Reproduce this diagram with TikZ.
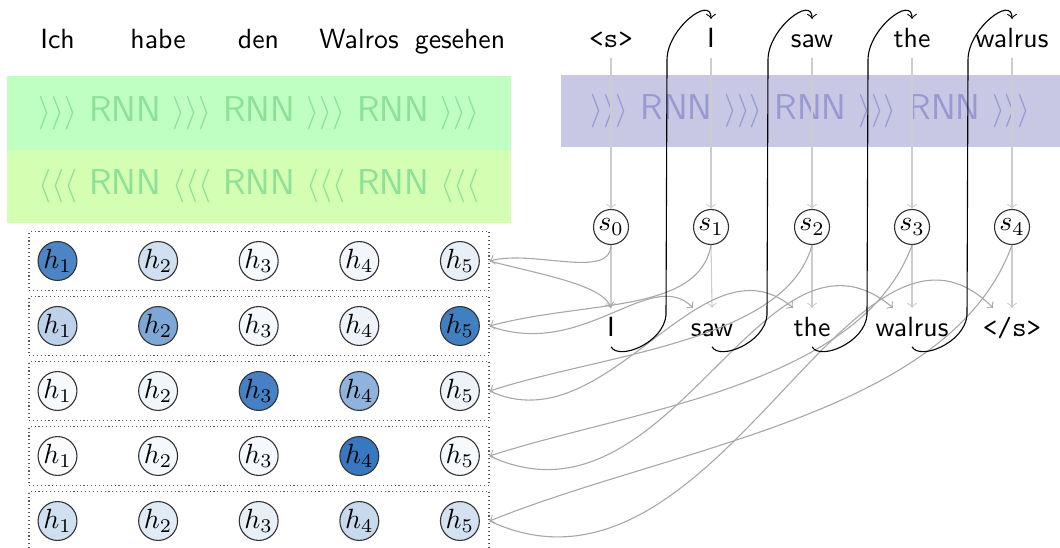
\documentclass[tikz,border=0pt]{standalone}
\usepackage{fontspec}
\usetikzlibrary{calc}

\definecolor{encA}{RGB}{191,255,193}
\definecolor{encB}{RGB}{212,255,178}
\definecolor{encT}{RGB}{140,224,152}
\definecolor{decBox}{RGB}{200,200,228}
\definecolor{decT}{RGB}{152,152,212}
\definecolor{attblue}{RGB}{55,120,192}
\definecolor{feedgray}{RGB}{205,205,205}
\definecolor{attgray}{RGB}{168,168,168}

\begin{document}
\begin{tikzpicture}[x=0.36pt,y=0.36pt,
  word/.style={font=\sffamily, anchor=base, text height=6.94pt, text depth=0pt},
  rnnbox/.style={inner sep=0pt, font=\sffamily\fontsize{12.9pt}{15pt}\selectfont},
  hid/.style={circle, draw=black!80, minimum size=14pt, inner sep=0pt},
  st/.style={circle, draw=black!80, fill=white, minimum size=12.6pt, inner sep=0pt},
  rowbox/.style={draw=black!65, densely dotted, minimum width=165.6pt, minimum height=21.2pt, inner sep=0pt},
  feed/.style={->, draw=feedgray},
  attn/.style={->, draw=attgray},
  loopback/.style={->, draw=black}]

\useasboundingbox (0,0) rectangle (1060,-548);

% encoder (forward / backward) and decoder RNN bands
\node[rnnbox, fill=encA, text=encT, minimum width=181.4pt, minimum height=26.6pt] (encF) at (259,-113)
  {$\rangle\rangle\rangle$ RNN $\rangle\rangle\rangle$ RNN $\rangle\rangle\rangle$ RNN $\rangle\rangle\rangle$};
\node[rnnbox, fill=encB, text=encT, minimum width=181.4pt, minimum height=26.3pt] (encR) at (259,-186.5)
  {$\langle\langle\langle$ RNN $\langle\langle\langle$ RNN $\langle\langle\langle$ RNN $\langle\langle\langle$};
\node[rnnbox, fill=decBox, text=decT, minimum width=179.6pt, minimum height=25.9pt] (dec) at (810.5,-111)
  {$\rangle\rangle\rangle$ RNN $\rangle\rangle\rangle$ RNN $\rangle\rangle\rangle$ RNN $\rangle\rangle\rangle$};

% source words
\node[word] (e1) at (57.5,-49) {Ich};
\node[word] (e2) at (158,-49) {habe};
\node[word] (e3) at (258.5,-49) {den};
\node[word] (e4) at (359,-49) {Walros};
\node[word] (e5) at (460,-49) {gesehen};

% decoder inputs
\node[word] (d0) at (611,-48) {\texttt{<s>}};
\node[word] (d1) at (711,-48) {I};
\node[word] (d2) at (812,-48) {saw};
\node[word] (d3) at (912,-48) {the};
\node[word] (d4) at (1012,-48) {walrus};

% decoder states
\node[st] (s0) at (611,-227) {$s_0$};
\node[st] (s1) at (711,-227) {$s_1$};
\node[st] (s2) at (812,-227) {$s_2$};
\node[st] (s3) at (912,-227) {$s_3$};
\node[st] (s4) at (1012,-227) {$s_4$};

% decoder outputs
\node[word] (o1) at (611,-337) {I};
\node[word] (o2) at (712,-337) {saw};
\node[word] (o3) at (812,-337) {the};
\node[word] (o4) at (912,-337) {walrus};
\node[word] (o5) at (1012,-337) {\texttt{</s>}};

% attention rows: encoder states shaded by their weight
\foreach \r/\wtA/\wtB/\wtC/\wtD/\wtE in {1/90/23/4/6/12, 2/33/65/5/9/95, 3/4/7/93/56/9, 4/2/5/5/100/4, 5/23/15/12/28/22} {
  \pgfmathsetmacro\yy{-261-65*(\r-1)}
  \node[rowbox] (row\r) at (259,\yy) {};
  \foreach \c/\wt in {1/\wtA,2/\wtB,3/\wtC,4/\wtD,5/\wtE} {
    \node[hid, fill=attblue!\wt!white] (h\r\c) at ({57.5+100.6*(\c-1)},\yy) {$h_{\c}$};
  }
}

% vertical flow through the decoder
\foreach \i [evaluate=\i as \j using int(\i+1)] in {0,...,4} {
  \draw[feed] (d\i.south) -- (s\i.north);
  \draw[feed] (s\i.south) -- (o\j.north);
}

% decoder state -> attention row
\draw[attn] (s0.south) .. controls +(-90:35) and +(15:45) .. (row1.east);
\draw[attn] (s1.south) .. controls +(-100:70) and +(15:100) .. (row2.east);
\draw[attn] (s2.south) .. controls +(-105:100) and +(18:120) .. (row3.east);
\draw[attn] (s3.south) .. controls +(-110:150) and +(18:150) .. (row4.east);
\draw[attn] (s4.south) .. controls +(-110:180) and +(22:200) .. (row5.east);

% attention row -> output word
\draw[attn] (row1.east) .. controls +(-15:50) and +(110:25) .. (o1.north);
\draw[attn] (row2.east) .. controls +(-20:100) and +(135:60) .. ([xshift=-6.8pt]o2.north);
\draw[attn] (row3.east) .. controls +(-25:130) and +(140:120) .. ([xshift=-6.8pt]o3.north);
\draw[attn] (row4.east) .. controls +(-25:200) and +(140:170) .. ([xshift=-6.8pt]o4.north);
\draw[attn] (row5.east) .. controls +(-25:250) and +(135:200) .. ([xshift=-6.8pt]o5.north);

% each output word is fed back as the next input
\foreach \i in {1,...,4} {
  \draw[loopback] (o\i.south)
    .. controls ($(o\i.south)+(8,-14)$) and ($(o\i.south)+(53,4)$) .. ($(o\i.south)+(55,32)$)
    -- ($(o\i.south)+(56,287)$)
    .. controls ($(o\i.south)+(56,318)$) and ($(d\i.north)+(0,24)$) .. (d\i.north);
}
\end{tikzpicture}
\end{document}
